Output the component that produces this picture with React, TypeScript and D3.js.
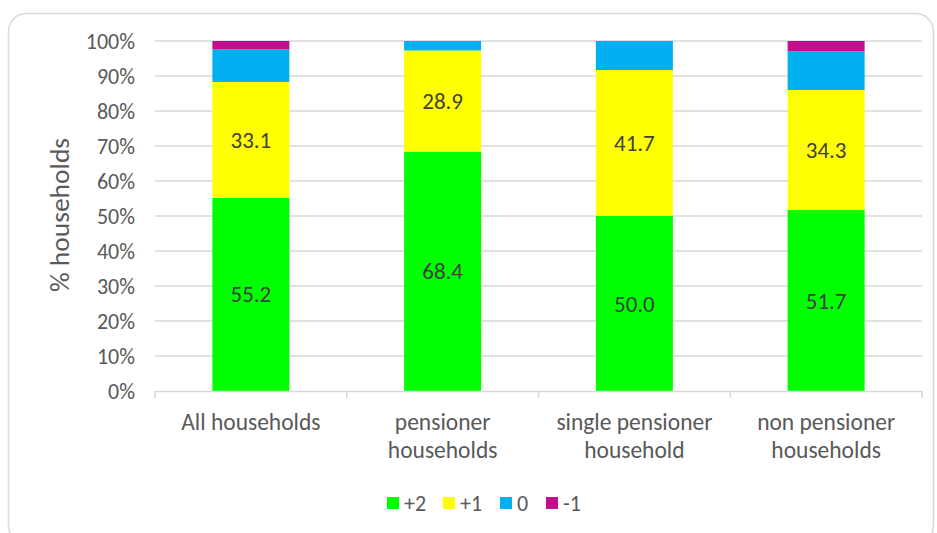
import * as React from 'react';
import {useEffect, useRef} from 'react';
import * as d3 from 'd3';

const categories = [
    ['All households'],
    ['pensioner', 'households'],
    ['single pensioner', 'household'],
    ['non pensioner', 'households'],
];
const seriesNames = ['+2', '+1', '0', '-1'];
const seriesColors = ['#00ff00', '#ffff00', '#00b0f0', '#c00f8c'];
const plus2 = [55.2, 68.4, 50.0, 51.7];
const plus1 = [33.1, 28.9, 41.7, 34.3];
const zero = [9.3, 2.7, 8.3, 11.1];
const minus1 = [2.4, 0, 0, 2.9];
const yTicks = [0, 10, 20, 30, 40, 50, 60, 70, 80, 90, 100];
const labelledSeries = ['+2', '+1'];

const FONT = 'Carlito, Calibri, Lato, sans-serif';

const App = () => {
    const chartRef = useRef(null);

    useEffect(() => {
        document.body.style.margin = '0';
        const width = 937, height = 533;
        const left = 155, right = 922, top = 41, bottom = 391;

        const svg = d3.select(chartRef.current);
        svg.selectAll('*').remove();

        svg.append('rect')
            .attr('x', 8.5).attr('y', 13.5)
            .attr('width', 925).attr('height', 530)
            .attr('rx', 18)
            .attr('fill', 'white')
            .attr('stroke', '#d9d9d9')
            .attr('stroke-width', 1.5);

        const rows = categories.map((c, i) => ({
            key: i,
            '+2': plus2[i], '+1': plus1[i], '0': zero[i], '-1': minus1[i],
        }));

        const x = d3.scaleBand()
            .domain(categories.map((c, i) => String(i)))
            .range([left, right])
            .paddingInner(0).paddingOuter(0);

        const y = d3.scaleLinear().domain([0, 100]).range([bottom, top]);

        // gridlines
        svg.append('g')
            .selectAll('line')
            .data(yTicks.filter(t => t > 0))
            .enter().append('line')
            .attr('x1', left).attr('x2', right)
            .attr('y1', d => y(d)).attr('y2', d => y(d))
            .attr('stroke', '#d9d9d9').attr('stroke-width', 1.5);

        // y tick labels
        svg.append('g')
            .selectAll('text')
            .data(yTicks)
            .enter().append('text')
            .attr('x', 135)
            .attr('y', d => y(d))
            .attr('dy', '0.35em')
            .attr('text-anchor', 'end')
            .style('font-family', FONT)
            .style('font-size', '22px')
            .attr('fill', '#595959')
            .text(d => d + '%');

        const stacked = d3.stack().keys(seriesNames)(rows as any);
        const barW = 77;

        stacked.forEach((layer, si) => {
            svg.append('g')
                .selectAll('rect')
                .data(layer)
                .enter().append('rect')
                .attr('x', (d, i) => x(String(i)) + x.bandwidth() / 2 - barW / 2)
                .attr('y', d => y(d[1]))
                .attr('width', barW)
                .attr('height', d => y(d[0]) - y(d[1]))
                .attr('fill', seriesColors[si]);

            if (labelledSeries.includes(seriesNames[si])) {
                svg.append('g')
                    .selectAll('text')
                    .data(layer)
                    .enter().append('text')
                    .attr('x', (d, i) => x(String(i)) + x.bandwidth() / 2)
                    .attr('y', d => y((d[0] + d[1]) / 2))
                    .attr('dy', '0.35em')
                    .attr('text-anchor', 'middle')
                    .style('font-family', FONT)
                    .style('font-size', '23px')
                    .attr('fill', '#404040')
                    .text(d => (d[1] - d[0]).toFixed(1));
            }
        });

        // x axis
        const axis = svg.append('g');
        axis.append('line')
            .attr('x1', left).attr('x2', right)
            .attr('y1', bottom + 0.5).attr('y2', bottom + 0.5)
            .attr('stroke', '#d9d9d9').attr('stroke-width', 1.5);
        const boundaries = categories.map((c, i) => x(String(i))).concat([right]);
        axis.selectAll('line.tick')
            .data(boundaries)
            .enter().append('line')
            .attr('class', 'tick')
            .attr('x1', d => d).attr('x2', d => d)
            .attr('y1', bottom).attr('y2', bottom + 7)
            .attr('stroke', '#d9d9d9').attr('stroke-width', 1.5);

        axis.selectAll('text.cat')
            .data(categories)
            .enter().append('text')
            .attr('class', 'cat')
            .attr('x', (d, i) => x(String(i)) + x.bandwidth() / 2)
            .attr('y', 430)
            .attr('text-anchor', 'middle')
            .style('font-family', FONT)
            .style('font-size', '23.5px')
            .attr('fill', '#595959')
            .each(function (d) {
                const t = d3.select(this);
                d.forEach((line, li) => {
                    t.append('tspan')
                        .attr('x', t.attr('x'))
                        .attr('dy', li === 0 ? 0 : 28)
                        .text(line);
                });
            });

        // y axis title
        svg.append('text')
            .attr('transform', 'translate(69,215) rotate(-90)')
            .attr('text-anchor', 'middle')
            .style('font-family', FONT)
            .style('font-size', '27.5px')
            .attr('fill', '#595959')
            .text('% households');

        // legend
        const legendX = [387, 443, 500, 546];
        const legend = svg.append('g');
        seriesNames.forEach((name, i) => {
            legend.append('rect')
                .attr('x', legendX[i]).attr('y', 497)
                .attr('width', 12).attr('height', 12)
                .attr('fill', seriesColors[i]);
            legend.append('text')
                .attr('x', legendX[i] + 17).attr('y', 503)
                .attr('dy', '0.35em')
                .style('font-family', FONT)
                .style('font-size', '22px')
                .attr('fill', '#595959')
                .text(name);
        });

        svg.attr('width', width).attr('height', height);
    }, []);

    return (
        <svg ref={chartRef} width={937} height={533}
             style={{position: 'absolute', left: 0, top: 0, background: 'white'}}></svg>
    );
};

export default App;
